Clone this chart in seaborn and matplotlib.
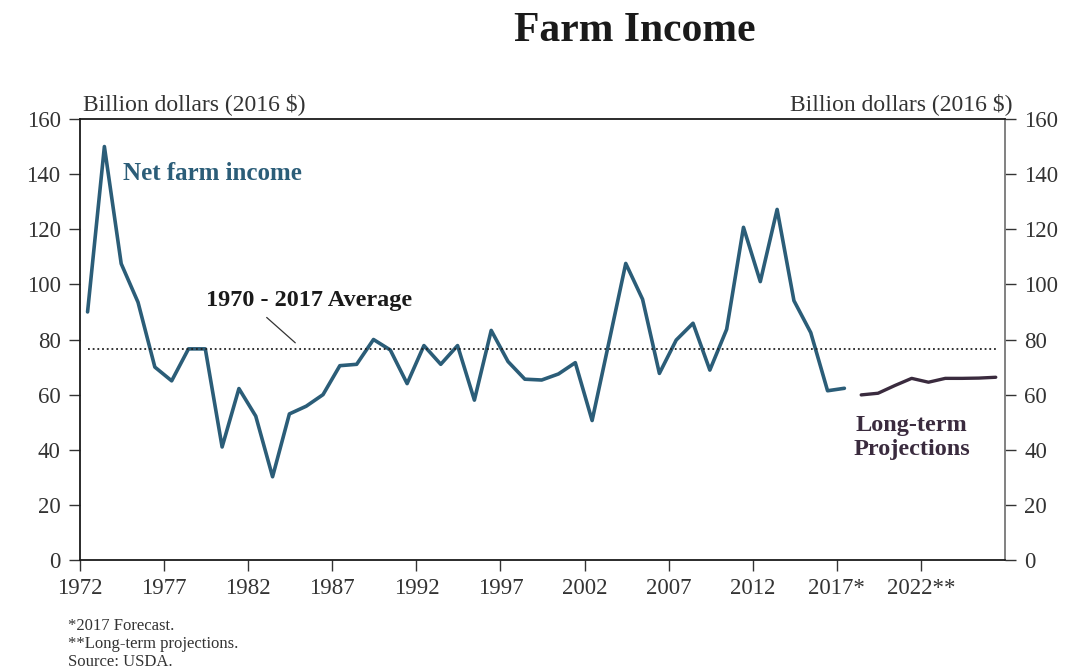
import matplotlib
matplotlib.use("Agg")
import matplotlib.pyplot as plt
import seaborn as sns
import pandas as pd
import numpy as np

# ---- data ----
years = list(range(1972, 2018))
net_income = [90, 150, 107.5, 93.5, 70, 65, 76.6, 76.6, 41, 62.2, 52.2, 30.2,
              53, 55.8, 60, 70.5, 71, 80, 76.2, 64, 77.8, 71, 77.8, 58,
              83.3, 72, 65.6, 65.3, 67.5, 71.6, 50.6, 79, 107.6, 94.6, 67.7, 79.8,
              85.9, 68.9, 83.7, 120.7, 101, 127.2, 94.1, 82.5, 61.4, 62.3]
proj_years = list(range(2018, 2027))
proj_income = [59.9, 60.5, 63.3, 65.9, 64.5, 65.9, 65.9, 66.0, 66.3]
average = 76.4
tick_years = [1972, 1977, 1982, 1987, 1992, 1997, 2002, 2007, 2012, 2017, 2022]
tick_labels = ["1972", "1977", "1982", "1987", "1992", "1997", "2002", "2007",
               "2012", "2017*", "2022**"]

OFF = 0.45  # points are centred within their year slot

sns.set_theme(style="white")
plt.rcParams["font.family"] = ["Liberation Serif", "DejaVu Serif"]

fig = plt.figure(figsize=(10.78, 6.71), dpi=100)
ax = fig.add_axes([80/1078, 1-560/671, (1005-80)/1078, (560-119)/671])

df_hist = pd.DataFrame({"year": np.array(years) + OFF, "value": net_income})
df_proj = pd.DataFrame({"year": np.array(proj_years) + OFF, "value": proj_income})

blue = "#2b5d78"
purple = "#3a2b3e"
sns.lineplot(data=df_hist, x="year", y="value", ax=ax, color=blue, lw=2.6)
sns.lineplot(data=df_proj, x="year", y="value", ax=ax, color=purple, lw=2.4)

ax.hlines(average, years[0] + OFF, proj_years[-1] + OFF, colors="#222222",
          linestyles=(0, (1, 1.6)), lw=1.3)

ax.set_xlim(1972, 2027)
ax.set_ylim(0, 160)
ax.set_xticks(tick_years)
ax.set_xticklabels(tick_labels)
ax.set_yticks(range(0, 161, 20))
ax.set_xlabel("")
ax.set_ylabel("")

ax.tick_params(axis="both", direction="out", length=8, width=1, color="#333333",
               labelsize=16.5, labelcolor="#333333")
ax.tick_params(axis="y", right=True, labelright=True, left=True, pad=6)
ax.tick_params(axis="x", bottom=True, pad=5)

for side in ["left", "bottom", "top"]:
    ax.spines[side].set_color("#1a1a1a")
    ax.spines[side].set_linewidth(1.3)
ax.spines["right"].set_color("#777777")
ax.spines["right"].set_linewidth(1.3)

# texts
fig.text(635/1078, 1-31/671, "Farm Income", ha="center", va="center",
         fontsize=30, fontweight="bold", color="#1a1a1a")
fig.text(83/1078, 1-104/671, "Billion dollars (2016 $)", ha="left", va="center",
         fontsize=17, color="#333333")
fig.text(1012/1078, 1-104/671, "Billion dollars (2016 $)", ha="right", va="center",
         fontsize=17, color="#333333")

ax.text(1974.55, 140.4, "Net farm income", ha="left", va="center",
        fontsize=18, fontweight="bold", color=blue)
ax.text(1985.6, 94.0, "1970 - 2017 Average", ha="center", va="center",
        fontsize=17.5, fontweight="bold", color="#1a1a1a")
ax.plot([1983.1, 1984.8], [88.0, 78.8], color="#333333", lw=0.9)
ax.text(2021.45, 44.3, "Long-term\nProjections", ha="center", va="center",
        fontsize=17.5, fontweight="bold", color=purple, linespacing=1.2)

fig.text(68/1078, 1-626/671, "*2017 Forecast.", ha="left", va="center",
         fontsize=12, color="#333333")
fig.text(68/1078, 1-644/671, "**Long-term projections.", ha="left", va="center",
         fontsize=12, color="#333333")
fig.text(68/1078, 1-662/671, "Source: USDA.", ha="left", va="center",
         fontsize=12, color="#333333")

fig.savefig("out.png", dpi=100)
